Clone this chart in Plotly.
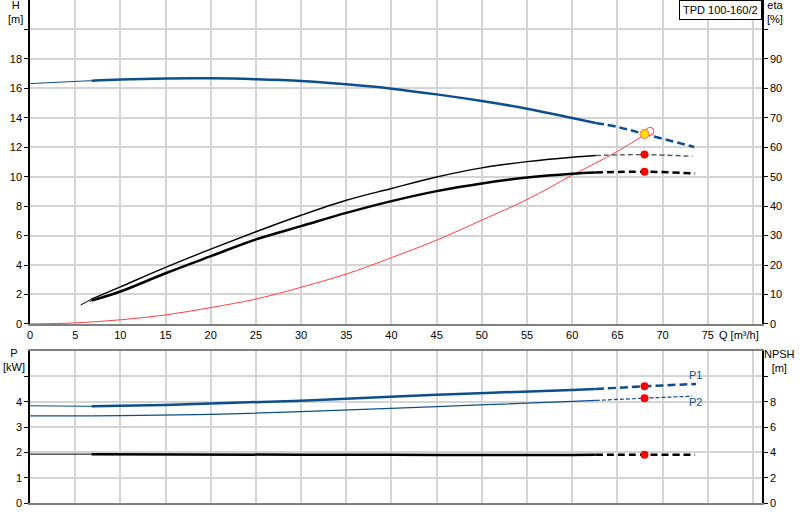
import numpy as np
import plotly.graph_objects as go

# flow points and curve values
q_h = [0, 5, 6.8, 10, 15, 20, 25, 30, 35, 40, 45, 50, 55, 60, 62.6, 65, 68, 73.5]
h = [16.32, 16.47, 16.52, 16.6, 16.67, 16.68, 16.62, 16.5, 16.27, 15.98, 15.59, 15.14, 14.62, 13.99, 13.65, 13.38, 12.9, 12.02]

q_sys = [0, 5, 10, 15, 20, 25, 30, 35, 40, 45, 50, 55, 60, 65, 68.6]
h_sys = [0, 0.07, 0.28, 0.61, 1.11, 1.69, 2.49, 3.39, 4.5, 5.69, 7.05, 8.45, 10.1, 11.72, 13.08]

q_eta1 = [5.6, 6.8, 10, 15, 20, 25, 30, 35, 40, 45, 50, 55, 60, 62.6, 68, 73.3]
eta1 = [6.4, 8.4, 12.6, 19.2, 25.4, 31.3, 36.9, 42.0, 46.0, 49.9, 53.0, 55.1, 56.6, 57.2, 57.5, 56.9]
q_eta2 = [6.6, 6.8, 10, 15, 20, 25, 30, 35, 40, 45, 50, 55, 60, 62.6, 68, 73.6]
eta2 = [7.6, 7.9, 11.0, 17.2, 23.0, 28.7, 33.2, 37.7, 41.7, 45.1, 47.7, 49.7, 51.0, 51.4, 51.7, 51.1]

q_p1 = [0, 6.8, 10, 15, 20, 30, 45, 60, 62.6, 68, 73.7]
p1 = [3.84, 3.82, 3.84, 3.87, 3.93, 4.04, 4.28, 4.46, 4.5, 4.61, 4.7]
q_p2 = [0, 6.8, 10, 20, 30, 45, 60, 62.6, 68, 73.3]
p2 = [3.44, 3.44, 3.45, 3.5, 3.61, 3.81, 4.01, 4.05, 4.14, 4.22]
q_npsh = [0, 6.8, 17, 30, 45, 60, 62.6, 68, 73.6]
npsh = [3.86, 3.86, 3.84, 3.81, 3.8, 3.8, 3.81, 3.82, 3.82]

q_duty = 68
q_req, h_req = 68.6, 13.08

x_ticks = list(range(0, 85, 5))
BLUE = "#0d4e8c"
FONT = "Liberation Sans, Arial, sans-serif"


def split(q, v, a=6.8, b=62.6):
    q = np.array(q)
    v = np.array(v)
    parts = [q <= a, (q >= a) & (q <= b), q >= b]
    return [(q[m], v[m]) for m in parts]


def add_curve(fig, q, v, color, yaxis, xaxis="x", thin=1, thick=2.5, dash="8px,4px", dash_color=None):
    (q0, v0), (q1, v1), (q2, v2) = split(q, v)
    for xs, ys, w, d, c in [(q0, v0, thin, "solid", color),
                            (q1, v1, thick, "solid", color),
                            (q2, v2, thick, dash, dash_color or color)]:
        if len(xs) < 2:
            continue
        fig.add_trace(go.Scatter(x=xs, y=ys, mode="lines", xaxis=xaxis, yaxis=yaxis,
                                 line=dict(color=c, width=w, dash=d, shape="spline"),
                                 hoverinfo="skip"))


def value_at(q, v, x):
    return float(np.interp(x, q, v))


fig = go.Figure()

# top panel: head, system curve, efficiencies
add_curve(fig, q_h, h, BLUE, "y")
fig.add_trace(go.Scatter(x=q_sys, y=h_sys, mode="lines", yaxis="y",
                         line=dict(color="#ff4040", width=1, shape="spline")))
add_curve(fig, q_eta1, eta1, "black", "y2", thin=1, thick=1.4, dash="5px,3px", dash_color="#555555")
add_curve(fig, q_eta2, eta2, "black", "y2", thin=1, thick=2.5, dash="7px,4px")
fig.add_trace(go.Scatter(x=[q_duty, q_duty], y=[value_at(q_eta1, eta1, q_duty), value_at(q_eta2, eta2, q_duty)],
                         mode="markers", yaxis="y2", marker=dict(color="red", size=8)))
fig.add_trace(go.Scatter(x=[q_req], y=[h_req], mode="markers", yaxis="y",
                         marker=dict(color="white", size=8, line=dict(color="#ff4040", width=1))))
fig.add_trace(go.Scatter(x=[q_duty], y=[value_at(q_h, h, q_duty)], mode="markers", yaxis="y",
                         marker=dict(color="#ffe000", size=9, line=dict(color="#ff6060", width=1))))

# bottom panel: power and NPSH
add_curve(fig, q_p1, p1, BLUE, "y3", xaxis="x2", thin=1, thick=2.5)
add_curve(fig, q_p2, p2, BLUE, "y3", xaxis="x2", thin=1.2, thick=1.2, dash="4px,2px")
add_curve(fig, q_npsh, npsh, "black", "y4", xaxis="x2", thin=1, thick=2.5, dash="7px,4px")
fig.add_trace(go.Scatter(x=[q_duty, q_duty], y=[value_at(q_p1, p1, q_duty), value_at(q_p2, p2, q_duty)],
                         mode="markers", xaxis="x2", yaxis="y3", marker=dict(color="red", size=8)))
fig.add_trace(go.Scatter(x=[q_duty], y=[value_at(q_npsh, npsh, q_duty)], mode="markers",
                         xaxis="x2", yaxis="y4", marker=dict(color="red", size=8)))


def labels(vals, hide):
    return [("" if v in hide else str(v)) for v in vals]


grid = dict(showgrid=True, gridcolor="#d4d4d4", gridwidth=1.5, zeroline=False, automargin=False)
yleft = dict(ticks="outside", ticklen=4, tickcolor="black", showline=True, linecolor="black",
             linewidth=1.5, tickfont=dict(size=11, color="black"), **grid)
yright = dict(ticks="outside", ticklen=4, tickcolor="black", showline=True, linecolor="black",
              linewidth=1.5, side="right", showgrid=False, zeroline=False, automargin=False,
              tickfont=dict(size=11, color="black"))

h_ticks = list(range(0, 22, 2))
eta_ticks = list(range(0, 110, 10))
p_ticks = list(range(0, 6))
npsh_ticks = list(range(0, 12, 2))

fig.update_layout(
    width=800, height=520,
    margin=dict(l=30, r=38, t=0, b=17, autoexpand=False),
    plot_bgcolor="white", paper_bgcolor="white",
    showlegend=False,
    font=dict(family=FONT, size=11, color="black"),
    xaxis=dict(domain=[0, 1], range=[0, 81], anchor="y", tickvals=x_ticks,
               ticktext=labels(x_ticks, {80}), ticks="", showline=True, linecolor="#808080",
               linewidth=2, tickfont=dict(size=11), **grid),
    yaxis=dict(domain=[0.356, 1], range=[0, 22], anchor="x", tickvals=h_ticks,
               ticktext=labels(h_ticks, {20}), **yleft),
    yaxis2=dict(overlaying="y", anchor="x", range=[0, 110], tickvals=eta_ticks,
                ticktext=labels(eta_ticks, {100}), **yright),
    xaxis2=dict(domain=[0, 1], range=[0, 81], anchor="y3", tickvals=x_ticks, showticklabels=False,
                ticks="", showline=True, mirror=True, linecolor="#808080", linewidth=2, **grid),
    yaxis3=dict(domain=[0, 0.302], range=[0, 6], anchor="x2", tickvals=p_ticks,
                ticktext=labels(p_ticks, {5}), **yleft),
    yaxis4=dict(overlaying="y3", anchor="x2", range=[0, 12], tickvals=npsh_ticks,
                ticktext=labels(npsh_ticks, {10}), **yright),
)


def px_x(px):
    return (px - 30) / 732


def px_y(py):
    return (503 - py) / 503


notes = [
    ("H<br>[m]", 15, -3),
    ("eta<br>[%]", 775, -3),
    ("P<br>[kW]", 14, 345),
    ("NPSH<br>[m]", 780, 346),
]
for text, x, y in notes:
    fig.add_annotation(text=text, xref="paper", yref="paper", x=px_x(x), y=px_y(y),
                       xanchor="center", yanchor="top", showarrow=False, align="center",
                       font=dict(size=11, color="black"))

fig.add_annotation(text="Q [m³/h]", xref="paper", yref="paper", x=px_x(739), y=px_y(335),
                   xanchor="center", yanchor="middle", showarrow=False, font=dict(size=11))
fig.add_annotation(text="P1", xref="paper", yref="paper", x=px_x(695), y=px_y(375),
                   xanchor="center", yanchor="middle", showarrow=False, font=dict(size=11, color=BLUE))
fig.add_annotation(text="P2", xref="paper", yref="paper", x=px_x(695), y=px_y(402),
                   xanchor="center", yanchor="middle", showarrow=False, font=dict(size=11, color=BLUE))
fig.add_annotation(text="TPD 100-160/2", xref="paper", yref="paper", x=px_x(762), y=1,
                   xanchor="right", yanchor="top", showarrow=False, font=dict(size=11),
                   bordercolor="black", borderwidth=1, borderpad=3, bgcolor="white")

# drop the page's default body margin so the figure sits at the window corner
fig.write_html("out.html", config={"displayModeBar": False},
               post_script="document.body.style.margin = '0px';")
